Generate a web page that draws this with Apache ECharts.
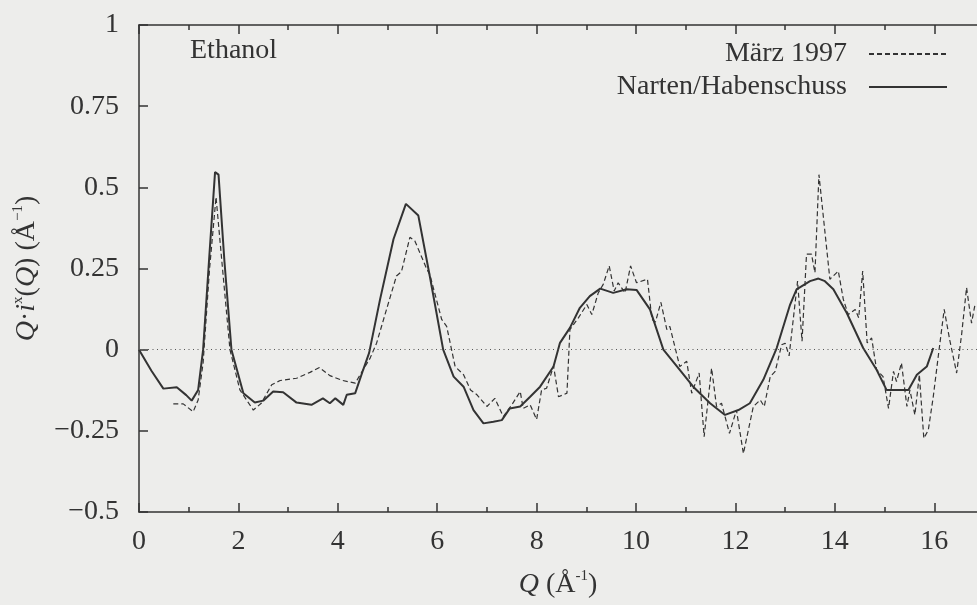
<!DOCTYPE html>
<html>
<head>
<meta charset="utf-8">
<script src="https://cdn.jsdelivr.net/npm/echarts@6/dist/echarts.min.js"></script>
<style>
  html, body { margin: 0; padding: 0; background: #ededeb; }
  #chart { width: 977px; height: 605px; }
</style>
</head>
<body>
<div id="chart"></div>
<script>
// ---- Data ----
const seriesNames = ['März 1997', 'Narten/Habenschuss'];
const panelLabel = 'Ethanol';
const xTicks = [0, 2, 4, 6, 8, 10, 12, 14, 16];
const xMinorTicks = [1, 3, 5, 7, 9, 11, 13, 15];
const yTicks = [-0.5, -0.25, 0, 0.25, 0.5, 0.75, 1];
const xVisibleMax = 16.86; // the reference picture is cut at the right edge

// Narten/Habenschuss (solid)
const qSolid = [0, 0.25, 0.49, 0.76, 0.95, 1.06, 1.19, 1.29, 1.42, 1.53, 1.60, 1.72, 1.86, 2.10, 2.33, 2.50, 2.70, 2.90, 3.17, 3.47, 3.70, 3.84, 3.95, 4.11, 4.18, 4.35, 4.51, 4.63, 4.85, 5.12, 5.37, 5.62, 5.85, 6.12, 6.33, 6.53, 6.73, 6.93, 7.13, 7.30, 7.46, 7.67, 7.87, 8.07, 8.34, 8.47, 8.67, 8.87, 9.07, 9.28, 9.54, 9.81, 10.01, 10.28, 10.55, 10.88, 11.15, 11.49, 11.79, 12.06, 12.29, 12.56, 12.83, 13.10, 13.23, 13.50, 13.67, 13.80, 13.97, 14.24, 14.57, 14.84, 15.04, 15.24, 15.48, 15.65, 15.85, 15.98];
const iSolid = [0, -0.065, -0.12, -0.116, -0.14, -0.157, -0.124, 0, 0.30, 0.547, 0.539, 0.27, 0, -0.134, -0.163, -0.157, -0.129, -0.131, -0.163, -0.170, -0.150, -0.165, -0.150, -0.170, -0.139, -0.134, -0.062, -0.01, 0.155, 0.34, 0.449, 0.413, 0.227, 0, -0.083, -0.114, -0.186, -0.227, -0.222, -0.217, -0.181, -0.175, -0.145, -0.114, -0.052, 0.021, 0.067, 0.129, 0.165, 0.188, 0.175, 0.186, 0.184, 0.124, 0, -0.062, -0.114, -0.165, -0.201, -0.186, -0.165, -0.093, 0.005, 0.139, 0.186, 0.211, 0.219, 0.211, 0.186, 0.113, 0.005, -0.062, -0.124, -0.124, -0.124, -0.077, -0.052, 0.005];

// März 1997 (dashed)
const qDashed = [0.69, 0.89, 1.09, 1.19, 1.29, 1.42, 1.55, 1.68, 1.83, 2.03, 2.30, 2.46, 2.67, 2.84, 3.17, 3.44, 3.63, 3.84, 4.10, 4.35, 4.65, 4.78, 4.98, 5.18, 5.28, 5.45, 5.55, 5.79, 5.85, 6.09, 6.19, 6.36, 6.53, 6.67, 6.80, 7.00, 7.16, 7.33, 7.50, 7.67, 7.73, 7.87, 8.00, 8.10, 8.20, 8.34, 8.44, 8.61, 8.67, 8.84, 9.01, 9.11, 9.24, 9.34, 9.46, 9.56, 9.64, 9.78, 9.89, 10.01, 10.23, 10.32, 10.39, 10.50, 10.62, 10.68, 10.88, 11.02, 11.12, 11.27, 11.37, 11.52, 11.62, 11.72, 11.88, 12.02, 12.16, 12.36, 12.50, 12.58, 12.70, 12.80, 12.93, 13.00, 13.08, 13.25, 13.34, 13.43, 13.53, 13.60, 13.68, 13.90, 14.07, 14.17, 14.27, 14.41, 14.48, 14.56, 14.65, 14.74, 14.84, 14.97, 15.08, 15.18, 15.24, 15.34, 15.45, 15.51, 15.61, 15.70, 15.79, 15.88, 15.98, 16.08, 16.20, 16.31, 16.45, 16.55, 16.65, 16.75, 16.82];
const iDashed = [-0.167, -0.167, -0.191, -0.155, -0.04, 0.25, 0.47, 0.25, 0, -0.124, -0.186, -0.165, -0.108, -0.095, -0.088, -0.07, -0.055, -0.08, -0.095, -0.103, -0.026, 0.02, 0.124, 0.227, 0.24, 0.346, 0.335, 0.248, 0.232, 0.093, 0.072, -0.052, -0.077, -0.124, -0.139, -0.175, -0.150, -0.206, -0.170, -0.129, -0.181, -0.170, -0.215, -0.124, -0.119, -0.05, -0.145, -0.134, 0.062, 0.098, 0.139, 0.108, 0.175, 0.201, 0.258, 0.181, 0.206, 0.175, 0.258, 0.206, 0.217, 0.093, 0.085, 0.146, 0.062, 0.072, -0.052, -0.036, -0.134, -0.072, -0.268, -0.057, -0.175, -0.165, -0.258, -0.186, -0.32, -0.175, -0.155, -0.175, -0.083, -0.067, 0.015, 0.02, -0.019, 0.211, 0.026, 0.294, 0.294, 0.237, 0.539, 0.217, 0.242, 0.155, 0.108, 0.124, 0.098, 0.242, 0.021, 0.036, -0.062, -0.083, -0.181, -0.067, -0.098, -0.041, -0.175, -0.124, -0.201, -0.077, -0.273, -0.248, -0.145, -0.021, 0.124, 0.031, -0.072, 0.046, 0.191, 0.082, 0.139];

// ---- Chart ----
const ink = '#333333';
const serif = '"Liberation Serif", "Times New Roman", serif';
const fs = 28;

const solidData = qSolid.map((q, k) => [q, iSolid[k]]);
const dashedData = qDashed.map((q, k) => [q, iDashed[k]]);

const chart = echarts.init(document.getElementById('chart'), null, { renderer: 'canvas' });

const richName = {
  it: { fontFamily: serif, fontSize: fs, fontStyle: 'italic', color: ink, lineHeight: 32 },
  n: { fontFamily: serif, fontSize: fs, color: ink, lineHeight: 32 },
  sup: { fontFamily: serif, fontSize: 15, color: ink, verticalAlign: 'top', lineHeight: 32, padding: [0, 0, 8, 0] }
};

const axisLineStyle = { color: ink, width: 1.5 };

function xAxisDef(position, ticks, tickLen, withLine, withLabels) {
  const def = {
    type: 'value', position: position,
    min: 0, max: xVisibleMax,
    axisLine: { show: withLine, onZero: false, lineStyle: axisLineStyle },
    axisTick: { show: true, inside: true, length: tickLen, customValues: ticks, lineStyle: axisLineStyle },
    minorTick: { show: false },
    splitLine: { show: false },
    axisLabel: withLabels
      ? { show: true, customValues: xTicks, fontFamily: serif, fontSize: fs, color: ink, margin: 16 }
      : { show: false }
  };
  if (withLabels) {
    def.name = '{it|Q}{n| (Å}{sup|-1}{n|)}';
    def.nameLocation = 'middle';
    def.nameGap = 57;
    def.nameTextStyle = { rich: richName };
  }
  return def;
}

const legendBase = {
  right: 29,
  align: 'right',
  itemWidth: 78, itemHeight: 12,
  padding: 0,
  itemStyle: { opacity: 0 },
  textStyle: { fontFamily: serif, fontSize: fs, color: ink, padding: [0, 17, 0, 0] }
};

const option = {
  backgroundColor: '#ededeb',
  animation: false,
  title: {
    text: panelLabel,
    left: 190,
    top: 37,
    padding: 0,
    textStyle: { fontFamily: serif, fontSize: fs, fontWeight: 'normal', color: ink }
  },
  legend: [
    Object.assign({}, legendBase, { data: [seriesNames[0]], top: 40 }),
    Object.assign({}, legendBase, { data: [seriesNames[1]], top: 73 })
  ],
  grid: { left: 139, top: 25, right: 0, height: 487, show: false, containLabel: false },
  xAxis: [
    xAxisDef('bottom', xTicks, 9, true, true),
    xAxisDef('bottom', xMinorTicks, 5, false, false),
    xAxisDef('top', xTicks, 9, true, false),
    xAxisDef('top', xMinorTicks, 5, false, false)
  ],
  yAxis: {
    type: 'value',
    min: -0.5, max: 1, interval: 0.25,
    axisLine: { show: true, onZero: false, lineStyle: axisLineStyle },
    axisTick: { show: true, inside: true, length: 9, lineStyle: axisLineStyle },
    splitLine: { show: false },
    axisLabel: {
      fontFamily: serif, fontSize: fs, color: ink, margin: 20,
      formatter: v => (yTicks.indexOf(v) >= 0 ? String(v).replace('-', '\u2212') : '')
    },
    name: '{it|Q}{n|·}{it|i}{sup|x}{n|(}{it|Q}{n|) (Å}{sup|−1}{n|)}',
    nameLocation: 'middle',
    nameGap: 96,
    nameTextStyle: { rich: richName }
  },
  series: [
    {
      name: seriesNames[0],
      type: 'line',
      xAxisIndex: 0,
      data: dashedData,
      showSymbol: false, symbol: 'none',
      lineStyle: { color: ink, width: 1.2, type: [5, 3] },
      itemStyle: { color: ink },
      z: 3
    },
    {
      name: seriesNames[1],
      type: 'line',
      xAxisIndex: 0,
      data: solidData,
      showSymbol: false, symbol: 'none',
      lineStyle: { color: ink, width: 2 },
      itemStyle: { color: ink },
      z: 4,
      markLine: {
        silent: true,
        symbol: ['none', 'none'],
        label: { show: false },
        lineStyle: { type: [1, 3.5], color: '#555', width: 1 },
        data: [{ yAxis: 0 }]
      }
    }
  ]
};

chart.setOption(option);
</script>
</body>
</html>
